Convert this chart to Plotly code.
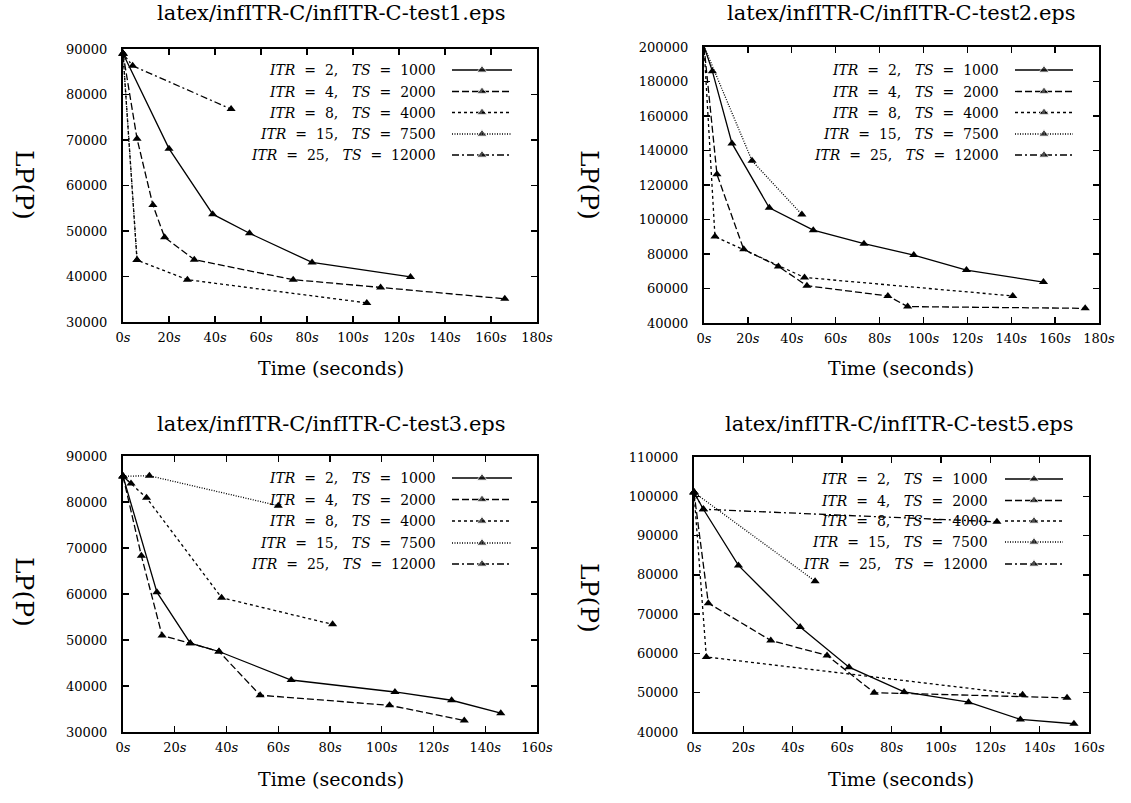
import plotly.graph_objects as go

# ---------------- data ----------------
series_names = ["ITR = 2", "ITR = 4", "ITR = 8", "ITR = 15", "ITR = 25"]
ts_values = ["1000", "2000", "4000", "7500", "12000"]

titles = ["latex/infITR-C/infITR-C-test1.eps", "latex/infITR-C/infITR-C-test2.eps",
          "latex/infITR-C/infITR-C-test3.eps", "latex/infITR-C/infITR-C-test5.eps"]

# test1
t1_itr2_x = [0, 20, 39, 55, 82.2, 125]
t1_itr2_y = [89000, 68100, 53700, 49500, 43100, 39900]
t1_itr4_x = [0, 6.1, 13, 18.1, 31, 74, 112, 166]
t1_itr4_y = [89000, 70300, 55700, 48600, 43700, 39300, 37600, 35100]
t1_itr8_x = [0, 6.1, 28, 106]
t1_itr8_y = [89000, 43600, 39300, 34200]
t1_itr15_x = [0, 6.1]
t1_itr15_y = [89000, 43600]
t1_itr25_x = [0, 4.2, 47]
t1_itr25_y = [89000, 86300, 76800]

# test2
t2_itr2_x = [0, 3.8, 12.75, 29.75, 49.8, 72.9, 95.6, 119.6, 154.7]
t2_itr2_y = [200500, 186000, 144100, 106800, 93800, 86000, 79400, 70700, 63700]
t2_itr4_x = [0, 5.9, 18.1, 33.9, 46.9, 83.8, 92.8, 173.7]
t2_itr4_y = [200500, 126200, 82700, 72800, 61600, 55700, 49500, 48500]
t2_itr8_x = [0, 5.0, 45.8, 140.7]
t2_itr8_y = [200500, 90100, 66400, 55700]
t2_itr15_x = [0, 21.9, 44.6]
t2_itr15_y = [200500, 134000, 102900]
t2_itr25_x = [0]
t2_itr25_y = [200500]

# test3
t3_itr2_x = [0, 13.1, 26.0, 37.1, 65.0, 105.1, 127.0, 146.0]
t3_itr2_y = [85600, 60400, 49300, 47500, 41300, 38700, 36900, 34100]
t3_itr4_x = [0, 7.1, 15.1, 26.0, 37.1, 53.0, 103.0, 131.9]
t3_itr4_y = [85600, 68300, 51000, 49300, 47500, 38000, 35800, 32500]
t3_itr8_x = [0, 9.1, 38.1, 81.0]
t3_itr8_y = [85600, 80900, 59200, 53400]
t3_itr15_x = [0, 10.2, 60.0]
t3_itr15_y = [85600, 85700, 79200]
t3_itr25_x = [0, 3.1]
t3_itr25_y = [85600, 84000]

# test5
t4_itr2_x = [0, 3.8, 18.0, 43.0, 62.8, 85.1, 111.2, 132.2, 153.9]
t4_itr2_y = [101000, 96700, 82400, 66700, 56500, 50200, 47600, 43200, 42100]
t4_itr4_x = [0, 5.8, 31.1, 53.9, 73.0, 151.1]
t4_itr4_y = [101000, 72800, 63300, 59500, 50000, 48700]
t4_itr8_x = [0, 5.0, 133.1]
t4_itr8_y = [101000, 59100, 49500]
t4_itr15_x = [0, 49.05]
t4_itr15_y = [101000, 78400]
t4_itr25_x = [0, 3.8, 122.7]
t4_itr25_y = [101000, 96700, 93500]

x_ticks_180 = [0, 20, 40, 60, 80, 100, 120, 140, 160, 180]
x_ticks_160 = [0, 20, 40, 60, 80, 100, 120, 140, 160]
y_ticks_1 = [30000, 40000, 50000, 60000, 70000, 80000, 90000]
y_ticks_2 = [40000, 60000, 80000, 100000, 120000, 140000, 160000, 180000, 200000]
y_ticks_3 = [30000, 40000, 50000, 60000, 70000, 80000, 90000]
y_ticks_4 = [40000, 50000, 60000, 70000, 80000, 90000, 100000, 110000]

panels = [
    dict(series=[(t1_itr2_x, t1_itr2_y), (t1_itr4_x, t1_itr4_y), (t1_itr8_x, t1_itr8_y),
                 (t1_itr15_x, t1_itr15_y), (t1_itr25_x, t1_itr25_y)],
         xt=x_ticks_180, yt=y_ticks_1),
    dict(series=[(t2_itr2_x, t2_itr2_y), (t2_itr4_x, t2_itr4_y), (t2_itr8_x, t2_itr8_y),
                 (t2_itr15_x, t2_itr15_y), (t2_itr25_x, t2_itr25_y)],
         xt=x_ticks_180, yt=y_ticks_2),
    dict(series=[(t3_itr2_x, t3_itr2_y), (t3_itr4_x, t3_itr4_y), (t3_itr8_x, t3_itr8_y),
                 (t3_itr15_x, t3_itr15_y), (t3_itr25_x, t3_itr25_y)],
         xt=x_ticks_160, yt=y_ticks_3),
    dict(series=[(t4_itr2_x, t4_itr2_y), (t4_itr4_x, t4_itr4_y), (t4_itr8_x, t4_itr8_y),
                 (t4_itr15_x, t4_itr15_y), (t4_itr25_x, t4_itr25_y)],
         xt=x_ticks_160, yt=y_ticks_4),
]

# ---------------- layout / style ----------------
W, H = 1131, 803
dashes = ["solid", "7px,3px", "3px,3px", "1px,1.5px", "7px,3px,2px,3px"]
FONT = "DejaVu Serif"

# plot boxes in pixels: (left, right, top, bottom)
boxes = [(123, 537, 49, 322), (704, 1099, 47, 323), (123, 537, 456, 732), (694, 1089, 457, 732)]
# legend: text right edge, line start, line end, row y list
legends = [
    (438, 452, 512, [70, 91.5, 112.5, 134, 155]),
    (1001, 1015, 1073, [70, 91.5, 112.5, 134, 155]),
    (438, 452, 512, [478, 499.5, 521, 543, 564]),
    (990, 1005, 1063, [479, 500.5, 521, 542, 564]),
]
title_pos = [(331, 13), (901, 13), (331, 424), (899, 424)]
xlabel_pos = [(331, 368), (901, 368), (331, 779), (901, 779)]
ylabel_pos = [(25, 185), (590, 185), (25, 592), (590, 598)]

fig = go.Figure()
layout = dict(width=W, height=H, margin=dict(l=0, r=0, t=0, b=0, pad=0, autoexpand=False),
              paper_bgcolor="white", plot_bgcolor="rgba(0,0,0,0)", showlegend=False,
              font=dict(family=FONT, color="black"))
annotations = []

for i, p in enumerate(panels):
    n = i + 1
    xa = "x" if n == 1 else f"x{n}"
    ya = "y" if n == 1 else f"y{n}"
    for k, (xs, ys) in enumerate(p["series"]):
        fig.add_trace(go.Scatter(
            x=xs, y=ys, mode="lines+markers", xaxis=xa, yaxis=ya,
            line=dict(color="black", width=1.3, dash=dashes[k]),
            marker=dict(symbol="triangle-up", size=8, color="black"),
            cliponaxis=False, hoverinfo="skip"))
    l, r, t, b = boxes[i]
    xkey = "xaxis" if n == 1 else f"xaxis{n}"
    ykey = "yaxis" if n == 1 else f"yaxis{n}"
    common = dict(showgrid=False, zeroline=False, showline=True, linecolor="black",
                  linewidth=2, mirror="ticks", ticks="inside", ticklen=6, tickwidth=1.3,
                  tickcolor="black", tickfont=dict(family=FONT, size=13, color="black"),
                  automargin=False)
    layout[xkey] = dict(common, domain=[l / W, r / W], anchor=ya,
                        range=[p["xt"][0], p["xt"][-1]], tickmode="array",
                        tickvals=p["xt"], ticktext=[f"{v}<i>s</i>" for v in p["xt"]],
                        ticklabelstandoff=2)
    layout[ykey] = dict(common, domain=[1 - b / H, 1 - t / H], anchor=xa,
                        range=[p["yt"][0], p["yt"][-1]], tickmode="array",
                        tickvals=p["yt"], ticktext=[str(v) for v in p["yt"]],
                        ticklabelstandoff=11)

    # titles and labels
    tx, ty = title_pos[i]
    annotations.append(dict(text=titles[i], x=tx / W, y=1 - ty / H, xref="paper", yref="paper",
                            showarrow=False, xanchor="center", yanchor="middle",
                            font=dict(family=FONT, size=21)))
    lx, ly = xlabel_pos[i]
    annotations.append(dict(text="Time (seconds)", x=lx / W, y=1 - ly / H, xref="paper",
                            yref="paper", showarrow=False, xanchor="center", yanchor="middle",
                            font=dict(family=FONT, size=19)))
    vx, vy = ylabel_pos[i]
    annotations.append(dict(text="LP(P)", x=vx / W, y=1 - vy / H, xref="paper", yref="paper",
                            showarrow=False, xanchor="center", yanchor="middle", textangle=90,
                            font=dict(family=FONT, size=25)))

    # legend entries
    tr, x0, x1, rows = legends[i]
    for k in range(5):
        name = series_names[k].replace("ITR", "<i>ITR</i>").replace(" = ", "&nbsp;&nbsp;=&nbsp;&nbsp;")
        label = f"{name},&nbsp;&nbsp;&nbsp;<i>TS</i>&nbsp;&nbsp;=&nbsp;&nbsp;{ts_values[k]}"
        annotations.append(dict(text=label, x=tr / W, y=1 - rows[k] / H, xref="paper",
                                yref="paper", showarrow=False, xanchor="right",
                                yanchor="middle", font=dict(family=FONT, size=14)))
        fig.add_trace(go.Scatter(
            x=[x0, (x0 + x1) / 2, x1], y=[rows[k]] * 3, mode="lines+markers",
            xaxis="x5", yaxis="y5",
            line=dict(color="black", width=1.3, dash=dashes[k]),
            marker=dict(symbol="triangle-up", size=[0, 9, 0], color="black"),
            hoverinfo="skip"))

layout["xaxis5"] = dict(domain=[0, 1], range=[0, W], visible=False, anchor="y5", automargin=False)
layout["yaxis5"] = dict(domain=[0, 1], range=[H, 0], visible=False, anchor="x5", automargin=False)
layout["annotations"] = annotations
fig.update_layout(**layout)
fig.write_html("out.html", config={"displayModeBar": False, "staticPlot": True},
               post_script="document.body.style.margin='0';document.body.style.overflow='hidden';")
